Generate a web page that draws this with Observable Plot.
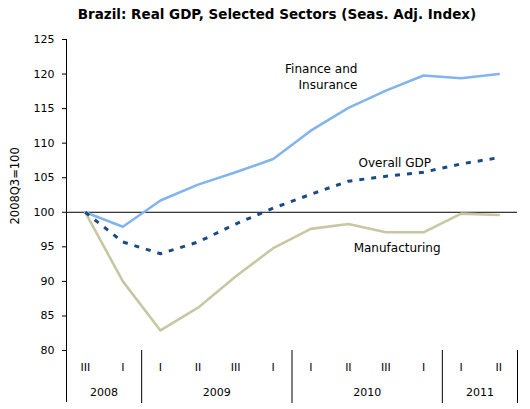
<!DOCTYPE html>
<html><head><meta charset="utf-8">
<script src="https://cdn.jsdelivr.net/npm/d3@7"></script>
<script src="https://cdn.jsdelivr.net/npm/@observablehq/plot@0.6"></script>
<style>
body{margin:0;background:#fff;font-family:"DejaVu Sans",Verdana,sans-serif;}
#title{height:30px;line-height:28px;font-size:13.5px;font-weight:bold;text-align:center;padding-left:24px;width:506px;color:#000;}
</style></head><body>
<div id="title">Brazil: Real GDP, Selected Sectors (Seas. Adj. Index)</div>
<div id="chart"></div>
<script>
const quarters = ["2008Q3","2008Q4","2009Q1","2009Q2","2009Q3","2009Q4","2010Q1","2010Q2","2010Q3","2010Q4","2011Q1","2011Q2"];
const quarterLabels = ["III","I","I","II","III","I","I","II","III","I","I","II"];
const years = ["2008","2009","2010","2011"];
const quartersPerYear = [2,4,4,2];
const finance = [100,97.9,101.7,104.0,105.8,107.7,111.8,115.1,117.6,119.8,119.4,120.0];
const overallGDP = [100,95.7,94.0,95.7,98.3,100.6,102.6,104.5,105.2,105.8,107.0,107.9];
const manufacturing = [100,90.0,82.9,86.2,90.7,94.8,97.6,98.3,97.1,97.1,99.8,99.6];
const yTicks = [80,85,90,95,100,105,110,115,120,125];
const yLabel = "2008Q3=100";
const annotations = [
  {text:"Finance and\nInsurance", pos:7.74, value:119.7, anchor:"end"},
  {text:"Overall GDP", pos:7.77, value:107.3, anchor:"start"},
  {text:"Manufacturing", pos:7.64, value:95.0, anchor:"start"}
];

const rows = quarters.map((q,i)=>({quarter:q, pos:i+0.5, label:quarterLabels[i],
  finance:finance[i], gdp:overallGDP[i], manufacturing:manufacturing[i]}));
const yearRows = [];
const breaks = [0];
let acc = 0;
years.forEach((y,i)=>{ yearRows.push({year:y, pos:acc+quartersPerYear[i]/2}); acc += quartersPerYear[i]; breaks.push(acc); });

const H = 379, MT = 9, MB = 59;
const frameH = H - MT - MB;
const ext = 52;

const chart = Plot.plot({
  width:530, height:H, marginTop:MT, marginBottom:MB, marginLeft:66, marginRight:13,
  x:{domain:[0,acc], axis:null},
  y:{domain:[yTicks[0], yTicks[yTicks.length-1]]},
  style:{fontFamily:"DejaVu Sans, Verdana, sans-serif", fontSize:"11px", color:"#000", background:"#fff"},
  marks:[
    Plot.ruleY([100], {stroke:"#000", strokeWidth:1}),
    Plot.line(rows, {x:"pos", y:"manufacturing", stroke:"#C9C7A3", strokeWidth:2.6, strokeLinejoin:"round"}),
    Plot.line(rows, {x:"pos", y:"finance", stroke:"#82B5EE", strokeWidth:2.6, strokeLinejoin:"round"}),
    Plot.line(rows, {x:"pos", y:"gdp", stroke:"#1B4A85", strokeWidth:3, strokeDasharray:"5,7", strokeLinecap:"butt"}),
    Plot.ruleX([0], {stroke:"#000", strokeWidth:1, insetBottom:-ext}),
    Plot.ruleX(breaks.slice(1), {stroke:"#000", strokeWidth:1, insetTop:frameH, insetBottom:-ext-1}),
    Plot.axisY(yTicks, {tickSize:4, tickPadding:8, fontSize:11, stroke:"#000", fill:"#000"}),
    Plot.text(rows, {x:"pos", text:"label", frameAnchor:"bottom", dy:20, fontSize:11, fill:"#000"}),
    Plot.text(yearRows, {x:"pos", text:"year", frameAnchor:"bottom", dy:45, fontSize:11, fill:"#000"}),
    Plot.text([yLabel], {frameAnchor:"left", rotate:-90, dx:-51, dy:29.5, fontSize:11.5, fill:"#000"}),
    ...["start","end"].map(a => Plot.text(annotations.filter(d => d.anchor === a),
      {x:"pos", y:"value", text:"text", textAnchor:a, fontSize:12, lineHeight:1.35, fill:"#000"}))
  ]
});
document.getElementById("chart").appendChild(chart);
</script>
</body></html>
